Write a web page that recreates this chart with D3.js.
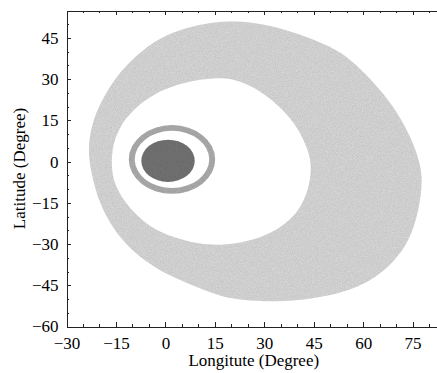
<!DOCTYPE html>
<html>
<head>
  <meta charset="UTF-8">
  <title>footprint</title>
  <style type="text/css">
    body { margin: 0; background: #fff; }
    text { font-family: "Liberation Serif", "Times New Roman", serif; fill: #000; }
    .axis path, .axis line { stroke: #222; stroke-width: 1px; shape-rendering: crispEdges; }
    .axis text { font-size: 17px; }
  </style>
</head>
<body>
  <div class="svg-zone"></div>
  <script src="https://cdn.jsdelivr.net/npm/d3@7"></script>
  <script type="text/javascript">
    // outer edge of the wide band, [lon, lat]
    var outerEdge = [
      [-23.6, 4.1], [-22.4, 13.3], [-20.0, 20.8], [-16.0, 29.2], [-10.8, 36.5],
      [-3.7, 43.8], [4.6, 48.3], [14.6, 50.9], [22.7, 51.2], [31.8, 49.7],
      [40.9, 46.4], [50.0, 42.0], [56.3, 37.3], [63.3, 28.8], [69.4, 20.0],
      [74.5, 9.0], [77.0, 0.5], [78.0, -5.7], [77.4, -14.1], [75.5, -24.2],
      [72.1, -32.6], [66.3, -40.0], [60.2, -44.7], [53.1, -48.0], [40.9, -50.6],
      [29.7, -51.0], [21.2, -50.2], [15.2, -48.4], [7.6, -44.7], [0.4, -41.1],
      [-5.7, -36.5], [-10.9, -31.5], [-16.0, -24.2], [-20.0, -15.3], [-22.4, -5.0]
    ];
    // inner edge of the wide band
    var innerEdge = [
      [-16.5, 0.5], [-15.6, 7.8], [-13.4, 13.3], [-11.3, 16.9], [-6.5, 22.2],
      [-0.6, 26.5], [7.6, 29.4], [14.6, 30.5], [20.8, 30.2], [25.8, 27.7],
      [31.2, 23.7], [36.8, 17.5], [40.7, 11.3], [43.7, 3.0], [44.3, -2.1],
      [43.7, -9.3], [40.7, -17.6], [37.7, -21.2], [32.6, -25.9], [24.8, -29.2],
      [16.7, -30.6], [9.7, -29.9], [2.5, -27.7], [-4.4, -24.1], [-9.5, -18.7],
      [-13.4, -12.9], [-15.9, -6.8]
    ];
    // ring: centre and radii (deg)
    var ringCentre = [2.0, 0.8];
    var ringOuter = [13.1, 12.5];
    var ringInner = [11.3, 10.4];
    // dark spot
    var spotCentre = [0.8, 0.3];
    var spotRadius = [8.1, 7.7];

    var xMajor = [-30, -15, 0, 15, 30, 45, 60, 75];
    var yMajor = [-60, -45, -30, -15, 0, 15, 30, 45];
    var xMinor = d3.range(-30, 82, 5);
    var yMinor = d3.range(-60, 56, 5);

    var width = 437,
      height = 373,
      margin = { left: 66.5, top: 10.5, right: 0, bottom: 46.5 };

    var x = d3.scaleLinear()
      .domain([-30, 82.4])
      .range([margin.left, width - margin.right]);
    var y = d3.scaleLinear()
      .domain([-60, 55])
      .range([height - margin.bottom, margin.top]);

    var svg = d3.select(".svg-zone").append("svg")
      .attr("width", width)
      .attr("height", height);

    var line = d3.line()
      .x(function (d) { return x(d[0]); })
      .y(function (d) { return y(d[1]); })
      .curve(d3.curveBasisClosed);

    function ellipsePath(c, r) {
      var cx = x(c[0]), cy = y(c[1]),
        rx = x(c[0] + r[0]) - cx, ry = cy - y(c[1] + r[1]);
      return "M" + (cx - rx) + "," + cy +
        "a" + rx + "," + ry + " 0 1,0 " + (2 * rx) + ",0" +
        "a" + rx + "," + ry + " 0 1,0 " + (-2 * rx) + ",0Z";
    }

    // grainy fill like the original raster
    var defs = svg.append("defs");
    var f = defs.append("filter").attr("id", "grain")
      .attr("x", 0).attr("y", 0).attr("width", 1).attr("height", 1);
    f.append("feTurbulence").attr("type", "fractalNoise")
      .attr("baseFrequency", 1.2).attr("numOctaves", 1).attr("seed", 3).attr("result", "n");
    f.append("feColorMatrix").attr("in", "n").attr("type", "matrix")
      .attr("values", "0 0 0 0 0  0 0 0 0 0  0 0 0 0 0  0 0 0 0.35 -0.1")
      .attr("result", "na");
    f.append("feComposite").attr("in", "na").attr("in2", "SourceGraphic")
      .attr("operator", "in").attr("result", "nm");
    f.append("feMerge").selectAll("feMergeNode")
      .data(["SourceGraphic", "nm"]).enter().append("feMergeNode")
      .attr("in", function (d) { return d; });

    svg.append("path")
      .attr("d", line(outerEdge) + line(innerEdge))
      .attr("fill", "#d6d6d6")
      .attr("fill-rule", "evenodd")
      .attr("filter", "url(#grain)");

    svg.append("path")
      .attr("d", ellipsePath(ringCentre, ringOuter) + ellipsePath(ringCentre, ringInner))
      .attr("fill", "#ababab")
      .attr("fill-rule", "evenodd")
      .attr("filter", "url(#grain)");

    svg.append("path")
      .attr("d", ellipsePath(spotCentre, spotRadius))
      .attr("fill", "#727272")
      .attr("filter", "url(#grain)");

    // axes, ticks pointing inward; minor ticks drawn first with the frame line
    function addAxis(axisFn, transform, minor, major, labels, pad) {
      svg.append("g").attr("class", "axis")
        .attr("transform", transform)
        .call(axisFn.tickValues(minor).tickSize(-2.5).tickSizeOuter(0).tickFormat(""));
      var g = svg.append("g").attr("class", "axis")
        .attr("transform", transform)
        .call(axisFn.tickValues(major).tickSize(-4.5).tickSizeOuter(0)
          .tickPadding(pad).tickFormat(labels ? d3.format("") : ""));
      g.select(".domain").remove();
      return g;
    }

    addAxis(d3.axisBottom(x), "translate(0," + y(-60) + ")", xMinor, xMajor, true, 10);
    addAxis(d3.axisTop(x), "translate(0," + y(55) + ")", xMinor, xMajor, false, 0);
    addAxis(d3.axisLeft(y), "translate(" + x(-30) + ",0)", yMinor, yMajor, true, 8);

    svg.selectAll(".axis text").attr("fill", "#000");

    svg.append("text")
      .attr("x", (x(-30) + width) / 2 + 2)
      .attr("y", 366)
      .attr("text-anchor", "middle")
      .style("font-size", "17px")
      .text("Longitute (Degree)");

    svg.append("text")
      .attr("transform", "translate(25," + (y(-60) + y(55)) / 2 + ") rotate(-90)")
      .attr("text-anchor", "middle")
      .style("font-size", "17px")
      .text("Latitude (Degree)");
  </script>
</body>
</html>
